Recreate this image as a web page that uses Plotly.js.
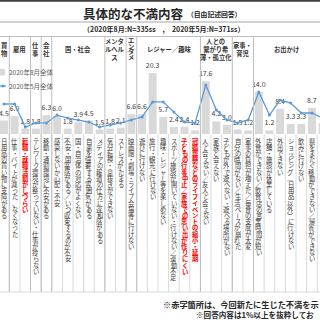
<!DOCTYPE html>
<html><head><meta charset="utf-8">
<script src="https://cdn.plot.ly/plotly-3.0.1.min.js"></script>
<style>html,body{margin:0;padding:0;background:#fff}#chart{width:320px;height:320px}</style>
</head><body><div id="chart"></div>
<script>
// ---- data ----
const categories = [
 "日用品の買い物に支障がある",
 "仕事・バイトが減った、なくなった",
 "転職・就職活動がしづらい",
 "テレワーク環境が整っていない・仕事が捗らない",
 "移動・通勤環境に不安がある",
 "感染しないか心配・不安",
 "不安・閉塞感がある／いつ収束するのか不安",
 "国・自治体の対応がよくない",
 "自粛を強要する雰囲気がある",
 "メディアの報道の仕方に違和感がある",
 "気分転換・息抜きができない",
 "ストレスがたまる",
 "映画館・劇場・ライブ会場等に行けない",
 "遊びに行けない",
 "旅行・観光に行けない",
 "趣味・レジャー等を楽しめない",
 "スポーツ施設が開いていない・行けない／運動不足",
 "子どもの行事中止／家族での思い出が作りにくい",
 "冠婚葬祭などのライフイベントの縮小・延期",
 "人と会えない／友人と会えない",
 "家族と会えない",
 "子どもが外で遊べない・遊べる場所がない",
 "自分の時間がない／生活ペースが崩れた",
 "家事の負担が増えた／毎食の支度が大変",
 "外食ができない／飲食店の営業時間が短い",
 "店舗・施設が休業している",
 "外出できない",
 "ショッピング（日用品以外）に行けない",
 "飲みに行けない",
 "県をまたぐ移動ができない／帰省ができない",
 ""
];
const newItems = [2, 17, 18]; // red labels (indices)
const aug2020 = [4.5,6.0,1.8,1.8,6.3,6.0,1.8,3.9,4.5,1.5,1.8,2.1,6.6,6.6,20.3,5.7,2.4,2.4,1.2,17.6,4.2,3.0,1.5,1.2,14.0,1.2,8.4,3.3,3.3,8.7,3.6];
const may2020 = [10.0,10.0,2.3,3.7,3.7,6.3,5.3,4.7,4.0,2.3,3.0,3.7,4.7,5.7,10.7,10.7,7.3,4.0,3.7,16.3,8.0,4.7,3.7,4.7,14.0,6.3,11.3,10.3,7.0,7.0,5.3];
const groupNames = ["買<br>物","雇用","仕<br>事","会<br>社","国・社会","メンタ<br>ルヘル<br>ス","エンタメ","レジャー／趣味","人との<br>繋がり希<br>薄・孤立化","家事・<br>育児","お出かけ"];
const groupFrom = [0,1,3,4,5,10,12,13,19,22,24];
const groupTo   = [0,2,3,4,9,11,12,18,21,23,30];
const seriesNames = ["2020年8月全体","2020年5月全体"];
const titleText = "具体的な不満内容";
const titleSub = "（自由記述回答）";
const subtitle = "（2020年8月:N=335ss　,　2020年5月:N=371ss）";
const notes = ["※赤字箇所は、今回新たに生じた不満を示","※回答内容は1%以上を抜粋してお"];

// ---- layout helpers ----
const W=320,H=320,T=62,B=186,PH=H-T-B;
const py = y => (H-B-y)/PH;
const px = x => x/W;
const FONT = '"Noto Sans CJK JP","Noto Sans",sans-serif';
const xs = categories.map((c,i)=>i);

const traces = [
 {type:'bar', x:xs, y:aug2020, name:seriesNames[0], marker:{color:'#d9d9d9'},
  text:aug2020.map(v=>v.toFixed(1)), textposition:'outside', cliponaxis:false,
  constraintext:'none', textfont:{size:7,color:'#404040',family:FONT}, hoverinfo:'none'},
 {type:'scatter', mode:'lines+markers', x:xs, y:may2020, name:seriesNames[1],
  line:{color:'#5b9bd5',width:1.3}, marker:{color:'#5b9bd5',size:3}, hoverinfo:'none'}
];

const ann = [];
const shapes = [];
const rot = new Set(['ー','（','）','〜','～']);
categories.forEach((lab,i)=>{
  const red = newItems.includes(i);
  [...lab].forEach((ch,j)=>{
    ann.push({x:i, xref:'x', y:py(141+6.2*j), yref:'paper', text: red?'<b>'+ch+'</b>':ch,
      showarrow:false, xanchor:'center', yanchor:'middle', textangle: rot.has(ch)?90:0,
      font:{size:6.3, color: red?'#ff0000':'#404040', family:FONT}});
  });
  shapes.push({type:'line', xref:'x', yref:'paper', x0:i+0.5, x1:i+0.5, y0:py(134), y1:py(292),
    line:{color:'#d9d9d9', width:1}});
});
groupNames.forEach((g,k)=>{
  const to = groupTo[k], from = groupFrom[k];
  const cx = to>=29 ? 26.6 : (from+to)/2;
  if (g === "エンタメ") {
    [...g].forEach((ch,j)=>{
      ann.push({x:cx, xref:'x', y:py(40.5+5.7*j), yref:'paper', text:'<b>'+ch+'</b>', showarrow:false,
        xanchor:'center', yanchor:'middle', font:{size:6.3,color:'#333333',family:FONT}});
    });
  } else {
    ann.push({x:cx, xref:'x', y:py(49), yref:'paper', text:'<b>'+g+'</b>', showarrow:false,
      xanchor:'center', yanchor:'middle', font:{size:6.3,color:'#333333',family:FONT}});
  }
  shapes.push({type:'line', xref:'x', yref:'paper', x0:to+0.5, x1:to+0.5, y0:py(36), y1:py(292),
    line:{color:'#bfbfbf', width:1}});
});
// titles
ann.push({x:px(133), xref:'paper', y:py(13), yref:'paper', text:'<b>'+titleText+'</b>', showarrow:false,
  xanchor:'center', yanchor:'middle', font:{size:12.5,color:'#262626',family:FONT}});
ann.push({x:px(185), xref:'paper', y:py(14.5), yref:'paper', text:'<b>'+titleSub+'</b>', showarrow:false,
  xanchor:'left', yanchor:'middle', font:{size:6.8,color:'#262626',family:FONT}});
ann.push({x:px(164), xref:'paper', y:py(28.5), yref:'paper', text:'<b>'+subtitle+'</b>', showarrow:false,
  xanchor:'center', yanchor:'middle', font:{size:7,color:'#262626',family:FONT}});
// legend (drawn)
shapes.push({type:'rect', xref:'paper', yref:'paper', x0:px(0), x1:px(5), y0:py(69), y1:py(75.5),
  fillcolor:'#d9d9d9', line:{width:0}});
ann.push({x:px(7), xref:'paper', y:py(72), yref:'paper', text:seriesNames[0], showarrow:false,
  xanchor:'left', yanchor:'middle', font:{size:6.5,color:'#595959',family:FONT}});
shapes.push({type:'line', xref:'paper', yref:'paper', x0:px(0), x1:px(6), y0:py(86), y1:py(86),
  line:{color:'#5b9bd5', width:1.3}});
shapes.push({type:'circle', xref:'paper', yref:'paper', x0:px(1.5), x1:px(4.5), y0:py(87.5), y1:py(84.5),
  fillcolor:'#5b9bd5', line:{width:0}});
ann.push({x:px(7), xref:'paper', y:py(86), yref:'paper', text:seriesNames[1], showarrow:false,
  xanchor:'left', yanchor:'middle', font:{size:6.5,color:'#595959',family:FONT}});
// notes
ann.push({x:px(161), xref:'paper', y:py(304), yref:'paper', text:'<b>'+notes[0]+'</b>', showarrow:false,
  xanchor:'left', yanchor:'middle', font:{size:8.2,color:'#262626',family:FONT}});
ann.push({x:px(316), xref:'paper', y:py(314), yref:'paper', text:'<b>'+notes[1]+'</b>', showarrow:false,
  xanchor:'right', yanchor:'middle', font:{size:7.6,color:'#262626',family:FONT}});
// frame lines
shapes.push({type:'rect', xref:'paper', yref:'paper', x0:0, x1:1, y0:py(0), y1:py(1.8), fillcolor:'#404040', line:{width:0}});
shapes.push({type:'line', xref:'paper', yref:'paper', x0:0, x1:1, y0:py(22), y1:py(22), line:{color:'#a6a6a6', width:1}});
shapes.push({type:'line', xref:'paper', yref:'paper', x0:0, x1:1, y0:py(36.5), y1:py(36.5), line:{color:'#bfbfbf', width:1}});
shapes.push({type:'line', xref:'paper', yref:'paper', x0:0, x1:1, y0:py(292), y1:py(292), line:{color:'#d9d9d9', width:1}});

const layout = {
  width:W, height:H, margin:{l:0,r:0,t:T,b:B,pad:0},
  paper_bgcolor:'#ffffff', plot_bgcolor:'rgba(0,0,0,0)',
  showlegend:false, bargap:0.25,
  font:{family:FONT, color:'#404040'},
  xaxis:{range:[-0.377,29.76], showgrid:false, zeroline:false, showticklabels:false, ticks:'', showline:false, fixedrange:true},
  yaxis:{range:[0,24], showgrid:false, zeroline:false, showticklabels:false, ticks:'', showline:false, fixedrange:true},
  annotations:ann, shapes:shapes
};
Plotly.newPlot('chart', traces, layout, {displayModeBar:false, staticPlot:true});
</script>
</body></html>
